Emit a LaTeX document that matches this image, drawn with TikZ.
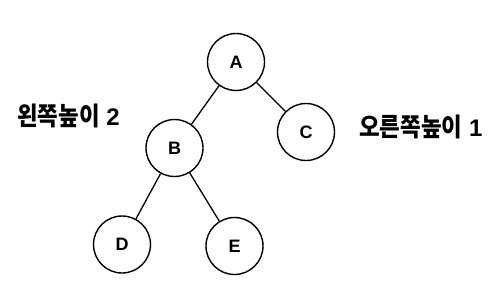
\documentclass[tikz,border=0pt]{standalone}
\usepackage{fontspec}
\setmainfont{Liberation Sans}
\newfontfamily\kr[FakeStretch=0.88]{Noto Sans CJK KR Bold}
\begin{document}
\begin{tikzpicture}[x=1pt,y=-1pt,
  treenode/.style={circle,draw,line width=1.4pt,minimum size=57pt,inner sep=0pt,font=\fontsize{18}{18}\selectfont\bfseries},
  conn/.style={line width=1.3pt},
  lbl/.style={anchor=west,inner sep=0pt,font=\fontsize{24}{24}\selectfont\bfseries}]
\useasboundingbox (0,0) rectangle (494,294);
\node[treenode] (A) at (236,62) {A};
\node[treenode] (B) at (174.5,148) {B};
\node[treenode] (C) at (306,132) {C};
\node[treenode] (D) at (122,244.5) {D};
\node[treenode] (E) at (234.5,246) {E};
\draw[conn] (A) -- (B);
\draw[conn] (A) -- (C);
\draw[conn] (B) -- (D);
\draw[conn] (B) -- (E);
\node[lbl] (L) at (17,116) {{\kr\fontsize{25.5}{25.5}\selectfont 왼쪽높이} 2};
\node[lbl] (R) at (359,126.5) {{\kr\fontsize{25.5}{25.5}\selectfont 오른쪽높이} 1};
\end{tikzpicture}
\end{document}
